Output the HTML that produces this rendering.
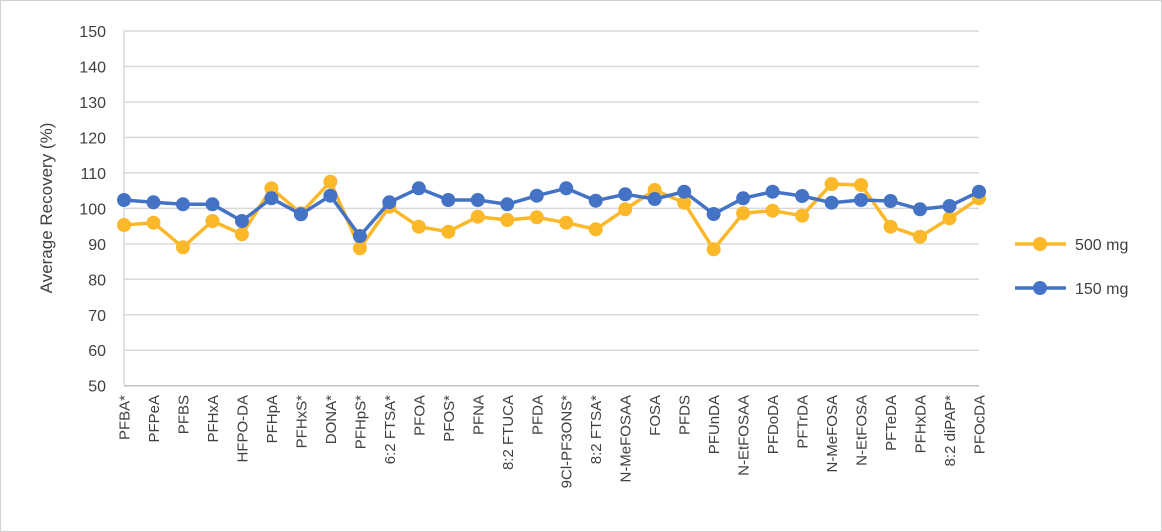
<!DOCTYPE html>
<html><head><meta charset="utf-8"><style>
html,body{margin:0;padding:0;background:#fff;}
svg{display:block;font-family:"Liberation Sans",sans-serif;}
</style></head><body>
<svg width="1162" height="532" xmlns="http://www.w3.org/2000/svg">
<rect x="0.5" y="0.5" width="1161" height="531" fill="#fff" stroke="#d0d0d0"/>
</svg>
<script>
const NS="http://www.w3.org/2000/svg";
const svg=document.querySelector('svg');
function el(t,a,txt,p){const e=document.createElementNS(NS,t);for(const k in a)e.setAttribute(k,a[k]);if(txt!=null)e.textContent=txt;(p||svg).appendChild(e);return e;}
const x0=124,x1=979,yb=385.7,ppu=3.547;
const Y=v=>yb-(v-50)*ppu;
for(let v=50;v<=150;v+=10){
  const y=Y(v);
  el('line',{x1:x0,x2:x1,y1:y,y2:y,stroke:v==50?'#bfbfbf':'#d9d9d9','stroke-width':1.5});
  el('text',{x:106,y:y+6,'text-anchor':'end','font-size':16,fill:'#404040'},String(v));
}
el('line',{x1:x0,x2:x0,y1:Y(150),y2:yb,stroke:'#d9d9d9','stroke-width':1.5});
el('text',{x:0,y:0,'font-size':17,fill:'#404040','text-anchor':'middle',transform:'translate(52,208) rotate(-90)'},'Average Recovery (%)');
const labs=["PFBA*","PFPeA","PFBS","PFHxA","HFPO-DA","PFHpA","PFHxS*","DONA*","PFHpS*","6:2 FTSA*","PFOA","PFOS*","PFNA","8:2 FTUCA","PFDA","9Cl-PF3ONS*","8:2 FTSA*","N-MeFOSAA","FOSA","PFDS","PFUnDA","N-EtFOSAA","PFDoDA","PFTrDA","N-MeFOSA","N-EtFOSA","PFTeDA","PFHxDA","8:2 diPAP*","PFOcDA"];
const dx=(x1-x0)/29;
const X=i=>x0+i*dx;
labs.forEach((l,i)=>{el('text',{x:0,y:0,'font-size':15,fill:'#404040','text-anchor':'end',transform:`translate(${X(i)+5.5},395) rotate(-90)`},l);});
const blue=[200,202.3,204.3,204.3,221,198.3,214.3,195.7,236,202.3,188.3,200,200,204.3,195.7,188.3,200.7,194.3,199,191.7,214,198.3,191.7,196,202.7,200,201,209.3,206,191.7];
const orng=[225,222.7,247.3,221,234.3,188.3,213.3,181.7,248.3,206.7,226.7,231.7,216.7,220,217.3,222.7,229.3,209.3,190,202.7,249.3,213.3,210.7,215.7,184,185,226.7,236.7,218.3,198.3];
function series(d,c){
  el('polyline',{points:d.map((y,i)=>X(i)+','+y).join(' '),fill:'none',stroke:c,'stroke-width':3.5,'stroke-linejoin':'round'});
  d.forEach((y,i)=>el('circle',{cx:X(i),cy:y,r:7,fill:c}));
}
series(orng,'#FBB829');
series(blue,'#4472C4');
function leg(y,c,t){
  el('line',{x1:1015,x2:1066,y1:y,y2:y,stroke:c,'stroke-width':3.5});
  el('circle',{cx:1040,cy:y,r:7,fill:c});
  el('text',{x:1075,y:y+6,'font-size':16,fill:'#404040'},t);
}
leg(244,'#FBB829','500 mg');
leg(288,'#4472C4','150 mg');
</script>
</body></html>
